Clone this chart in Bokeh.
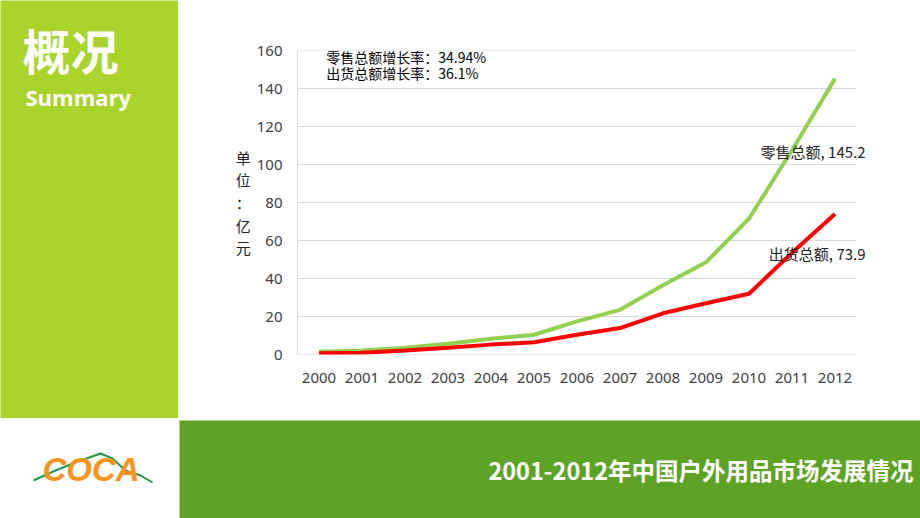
from bokeh.plotting import figure
from bokeh.models import Range1d, FixedTicker, Label
from bokeh.layouts import column, row
from bokeh.core.properties import value
from bokeh.embed import file_html
from bokeh.resources import INLINE

# ---------------- data ----------------
years = ["2000", "2001", "2002", "2003", "2004", "2005", "2006",
         "2007", "2008", "2009", "2010", "2011", "2012"]
retail = [1.5, 2.1, 3.5, 5.6, 8.3, 10.4, 17.4, 23.5, 36.5, 48.5, 71.5, 107.5, 145.2]
shipment = [0.7, 0.9, 2.1, 3.5, 5.2, 6.4, 10.4, 13.9, 21.7, 27.0, 32.0, 53.5, 73.9]
y_ticks = [0, 20, 40, 60, 80, 100, 120, 140, 160]
retail_name = "零售总额"
shipment_name = "出货总额"
retail_rate = "零售总额增长率：34.94%"
shipment_rate = "出货总额增长率：36.1%"
unit_label = "单\n位\n：\n亿\n元"
panel_title = "概况"
panel_sub = "Summary"
band_title = "2001-2012年中国户外用品市场发展情况"
logo_text = "COCA"

LIGHT_GREEN = "#A8D42B"
DARK_GREEN = "#5FA326"
CJK = value("Noto Sans CJK SC")
TICK_COLOR = "#404040"
GRID = "#D9D9D9"

x_idx = list(range(len(years)))


def blank(w, h, bg="white"):
    f = figure(width=w, height=h, x_range=Range1d(0, w), y_range=Range1d(h, 0),
               output_backend="svg", toolbar_location=None,
               min_border=0, min_border_left=0, min_border_right=0,
               min_border_top=0, min_border_bottom=0)
    f.axis.visible = False
    f.grid.visible = False
    f.outline_line_color = None
    f.background_fill_color = bg
    f.border_fill_color = bg
    return f


# ---------------- left panel ----------------
left = blank(178, 418, LIGHT_GREEN)
left.text(x=[22], y=[48], text=[panel_title], text_font=CJK, text_font_size="48px",
          text_font_style="bold", text_color="white", text_baseline="middle")
left.text(x=[25], y=[96], text=[panel_sub], text_font=value("Open Sans"),
          text_font_size="22px", text_font_style="bold", text_color="white",
          text_baseline="alphabetic")

# ---------------- chart ----------------
p = figure(width=742, height=418, x_range=Range1d(-0.5, len(years) - 0.5 + 10 / 43),
           y_range=Range1d(0, 160), output_backend="svg", toolbar_location=None,
           min_border_left=119, min_border_right=54, min_border_top=50, min_border_bottom=64)
p.outline_line_color = None
p.grid.grid_line_color = None
p.yaxis.ticker = FixedTicker(ticks=y_ticks)
p.xaxis.ticker = FixedTicker(ticks=x_idx)
p.xaxis.major_label_overrides = {i: y for i, y in zip(x_idx, years)}
for ax in (p.xaxis, p.yaxis):
    ax.major_tick_line_color = None
    ax.minor_tick_line_color = None
    ax.major_label_text_font = "Noto Sans"
    ax.major_label_text_color = TICK_COLOR
    ax.major_label_text_font_size = "15px"
p.xaxis.axis_line_color = None
p.yaxis.axis_line_color = GRID
p.xaxis.major_label_standoff = 12
p.yaxis.major_label_standoff = 9
p.yaxis.axis_label = unit_label
p.yaxis.axis_label_orientation = "horizontal"
p.yaxis.axis_label_text_font = "Noto Sans CJK SC"
p.yaxis.axis_label_text_font_style = "normal"
p.yaxis.axis_label_text_font_size = "15px"
p.yaxis.axis_label_text_color = "#222222"
p.yaxis.axis_label_text_line_height = 1.08
p.yaxis.axis_label_standoff = 3

p.segment(x0=-0.5, x1=len(years) - 0.5, y0=y_ticks, y1=y_ticks, line_color=GRID, line_width=1)

p.line(x_idx, retail, line_color="#92D050", line_width=4)
p.line(x_idx, shipment, line_color="#FF0000", line_width=4)

p.add_layout(Label(x=0.17, y=156.8, text=retail_rate, text_font="Noto Sans CJK SC",
                   text_font_size="14px", text_color="black", text_baseline="middle"))
p.add_layout(Label(x=0.17, y=147.9, text=shipment_rate, text_font="Noto Sans CJK SC",
                   text_font_size="14px", text_color="black", text_baseline="middle"))
p.add_layout(Label(x=12.71, y=106.8, text=f"{retail_name}, {retail[-1]}",
                   text_font="Noto Sans CJK SC", text_font_size="15px", text_color="#222222",
                   text_align="right", text_baseline="middle"))
p.add_layout(Label(x=12.71, y=53.2, text=f"{shipment_name}, {shipment[-1]}",
                   text_font="Noto Sans CJK SC", text_font_size="15px", text_color="#222222",
                   text_align="right", text_baseline="middle"))

# ---------------- logo ----------------
logo = blank(178, 100, "white")
logo.line(x=[33, 55, 75, 100, 112, 125, 140, 152], y=[62, 52, 44, 35, 40, 52, 57, 64],
          line_color="#1E9A4A", line_width=2)
logo.text(x=[42], y=[51], text=[logo_text], text_font=value("Liberation Sans"),
          text_font_size="33px", text_font_style="bold italic", text_color="#F7941D",
          text_baseline="middle")

# ---------------- bottom band ----------------
band = blank(742, 100, "white")
band.quad(left=[1], right=[742], top=[2], bottom=[100], fill_color=DARK_GREEN, line_color=None)
band.text(x=[735], y=[51], text=[band_title], text_font=CJK, text_font_size="23.5px",
          text_font_style="bold", text_color="white", text_align="right",
          text_baseline="middle")

layout = row(column(left, logo, spacing=0),
             column(row(p, spacing=0), row(band, spacing=0), spacing=0),
             spacing=0)

open("out.html", "w").write(file_html(layout, INLINE))
